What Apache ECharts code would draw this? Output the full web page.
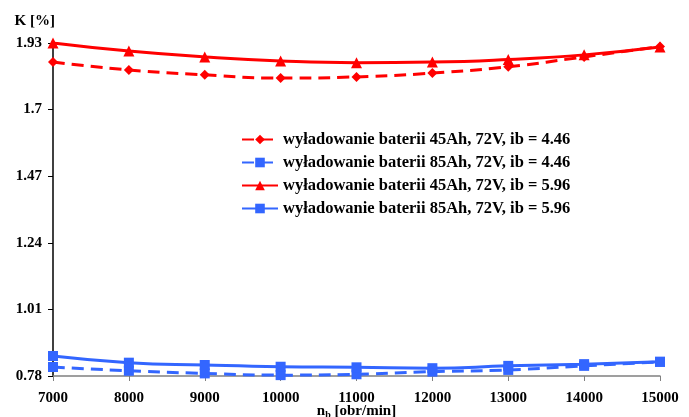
<!DOCTYPE html>
<html>
<head>
<meta charset="utf-8">
<script src="https://cdn.jsdelivr.net/npm/echarts@6/dist/echarts.min.js"></script>
<style>
  html, body { margin: 0; padding: 0; background: #fff; }
  #c1 { width: 689px; height: 417px; }
</style>
</head>
<body>
<div id="c1"></div>
<script>
// rotational speed n_b [obr/min]
const speeds = ['7000', '8000', '9000', '10000', '11000', '12000', '13000', '14000', '15000']
const yTicks = [0.78, 1.01, 1.24, 1.47, 1.7, 1.93]

const bat45ib446 = [1.864, 1.837, 1.820, 1.809, 1.813, 1.826, 1.848, 1.882, 1.918]
const bat85ib446 = [0.811, 0.798, 0.789, 0.783, 0.786, 0.795, 0.801, 0.815, 0.829]
const bat45ib596 = [1.930, 1.902, 1.882, 1.868, 1.862, 1.864, 1.873, 1.889, 1.916]
const bat85ib596 = [0.849, 0.826, 0.818, 0.812, 0.810, 0.807, 0.815, 0.821, 0.829]

const font = 'Liberation Serif, Times New Roman, serif'
const red = '#ff0000'
const blue = '#3366ff'

const chart = echarts.init(document.getElementById('c1'))

const mkSeries = (name, data, color, symbol, size, dashed) => ({
  name,
  type: 'line',
  data,
  smooth: true,
  symbol,
  symbolSize: size,
  color,
  lineStyle: { color, width: 3, type: dashed ? [12, 7] : 'solid' },
  itemStyle: { color },
  z: dashed ? 2 : 3
})

const option = {
  animation: false,
  grid: { left: 53, right: 29, top: 43, bottom: 41, containLabel: false, outerBoundsMode: 'none' },
  legend: {
    orient: 'vertical',
    left: 236,
    top: 126,
    itemWidth: 36,
    itemHeight: 12,
    itemGap: 6,
    textStyle: { fontFamily: font, fontWeight: 'bold', fontSize: 16.5, color: '#000' },
    data: [
      'wyładowanie baterii 45Ah, 72V, ib = 4.46',
      'wyładowanie baterii 85Ah, 72V, ib = 4.46',
      'wyładowanie baterii 45Ah, 72V, ib = 5.96',
      'wyładowanie baterii 85Ah, 72V, ib = 5.96'
    ]
  },
  xAxis: {
    type: 'category',
    data: speeds,
    boundaryGap: false,
    name: '{n|n}{s|b}{n| [obr/min]}',
    nameLocation: 'middle',
    nameGap: 27,
    nameMoveOverlap: false,
    nameTextStyle: {
      rich: {
        n: { fontFamily: font, fontWeight: 'bold', fontSize: 15, color: '#000' },
        s: { fontFamily: font, fontWeight: 'bold', fontSize: 10, color: '#000', verticalAlign: 'bottom', padding: [7, 0, 0, 0] }
      }
    },
    axisLine: { lineStyle: { color: '#808080', width: 1.5 } },
    axisTick: { show: true, length: 5, lineStyle: { color: '#808080' } },
    axisLabel: { fontFamily: font, fontWeight: 'bold', fontSize: 15, color: '#000', margin: 15 },
    splitLine: { show: false }
  },
  yAxis: {
    type: 'value',
    min: 0.78,
    max: 1.93,
    name: 'K [%]',
    nameLocation: 'end',
    nameGap: 14,
    nameTextStyle: { fontFamily: font, fontWeight: 'bold', fontSize: 15, color: '#000', align: 'right', padding: [0, -2, 0, 0] },
    axisLine: { show: true, lineStyle: { color: '#000', width: 1.5 } },
    axisTick: { show: true, length: 5, customValues: yTicks, lineStyle: { color: '#000' } },
    axisLabel: { customValues: yTicks, fontFamily: font, fontWeight: 'bold', fontSize: 15, color: '#000', margin: 11 },
    splitLine: { show: false }
  },
  series: [
    mkSeries('wyładowanie baterii 45Ah, 72V, ib = 4.46', bat45ib446, red, 'diamond', 10, true),
    mkSeries('wyładowanie baterii 85Ah, 72V, ib = 4.46', bat85ib446, blue, 'rect', 10, true),
    mkSeries('wyładowanie baterii 45Ah, 72V, ib = 5.96', bat45ib596, red, 'triangle', 11, false),
    mkSeries('wyładowanie baterii 85Ah, 72V, ib = 5.96', bat85ib596, blue, 'rect', 10, false)
  ]
}
chart.setOption(option)
</script>
</body>
</html>
